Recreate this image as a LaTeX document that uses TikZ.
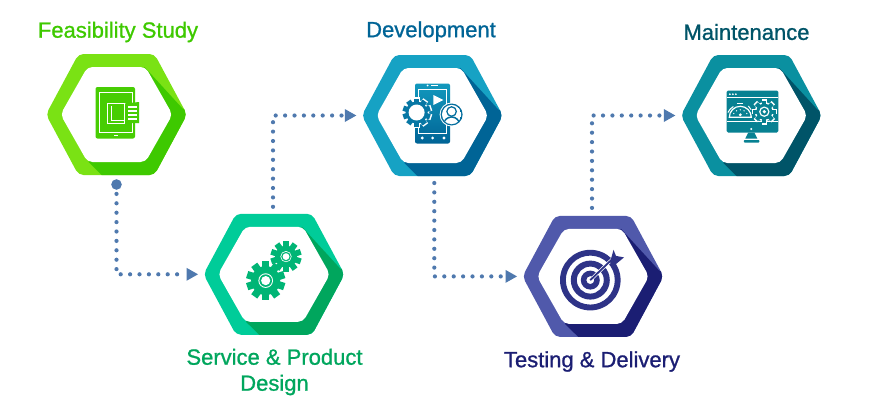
\documentclass[tikz,border=0pt]{standalone}
\usepackage{fontspec}
\setmainfont{Liberation Sans}[FakeBold=1.0]
\usetikzlibrary{calc}
\definecolor{gA}{HTML}{7AE214}\definecolor{gB}{HTML}{3EC900}
\definecolor{tA}{HTML}{00CC99}\definecolor{tB}{HTML}{00A65D}
\definecolor{bA}{HTML}{16A2C4}\definecolor{bB}{HTML}{006496}
\definecolor{iA}{HTML}{5059AB}\definecolor{iB}{HTML}{1B1E73}
\definecolor{mA}{HTML}{0A90A0}\definecolor{mB}{HTML}{005468}
\definecolor{lnk}{HTML}{4F79AE}
\tikzset{
  hexbox/.style={minimum width=138pt,minimum height=121pt,inner sep=0pt,outer sep=0pt},
  title/.style={font=\fontsize{22}{26}\selectfont,align=center,inner sep=0pt},
  flow/.style={lnk,line width=4.2pt,line cap=round,dash pattern=on 0pt off 9.4pt},
  tip/.style={fill=lnk,draw=none},
}
\newcommand{\hexshape}[4]{% x,y,light,dark
  \begin{scope}[shift={(#1,#2)}]
    \fill[#3,rounded corners=5pt] (-70.5,0)--(-38,-60.5)--(38,-60.5)--(70.5,0)--(38,60.5)--(-38,60.5)--cycle;
    \begin{scope}
      \clip[rounded corners=5pt] (-70.5,0)--(-38,-60.5)--(38,-60.5)--(70.5,0)--(38,60.5)--(-38,60.5)--cycle;
      \fill[#4] (28,-47.5)--(66,-6)--(80,0)--(80,70)--(-5.5,70)--(-14.8,60.5)--(-28,47.5)--cycle;
    \end{scope}
    \fill[white,rounded corners=5pt] (-56,0)--(-29,-47.5)--(29,-47.5)--(56,0)--(29,47.5)--(-29,47.5)--cycle;
  \end{scope}
}
\newcommand{\cog}[6]{% x,y,R,r,n,color
  \fill[#6] (#1,#2) circle (#4);
  \foreach \a in {1,...,#5}{
    \fill[#6,rotate around={\a*360/#5:(#1,#2)}] ($(#1,#2)+(-#3*0.19,0)$) rectangle ($(#1,#2)+(#3*0.19,-#3)$);
  }
}
\begin{document}
\begin{tikzpicture}[x=1pt,y=-1pt]
\useasboundingbox (0,0) rectangle (869,415);
\hexshape{116.5}{114.5}{gA}{gB}
\hexshape{274}{274.3}{tA}{tB}
\hexshape{432.3}{115.5}{bA}{bB}
\hexshape{593}{276.4}{iA}{iB}
\hexshape{751.3}{115.5}{mA}{mB}
\node[hexbox] (h1) at (116.5,114.5) {};
\node[hexbox] (h2) at (274,274.3) {};
\node[hexbox] (h3) at (432.3,115.5) {};
\node[hexbox] (h4) at (593,276.4) {};
\node[hexbox] (h5) at (751.3,115.5) {};
% connectors
\coordinate (e2) at ([xshift=-13pt]h2.west);
\coordinate (e3) at ([xshift=-13pt]h3.west);
\coordinate (e4) at ([xshift=-13pt]h4.west);
\coordinate (e5) at ([xshift=-13pt]h5.west);
\coordinate (s1) at ([yshift=-9.5pt]h1.south);
\coordinate (s2) at ([xshift=-1pt,yshift=7pt]h2.north);
\coordinate (s3) at ([xshift=2pt,yshift=-7pt]h3.south);
\coordinate (s4) at ([xshift=-1pt,yshift=8pt]h4.north);
\draw[flow] (s1) |- ([xshift=-8pt]e2);
\fill[lnk] (s1) circle (5.3pt);
\draw[flow] (s2) |- ([xshift=-8pt]e3);
\draw[flow] (s3) |- ([xshift=-8pt]e4);
\draw[flow] (s4) |- ([xshift=-8pt]e5);
\foreach \e in {e2,e3,e4,e5}{
  \fill[tip] ($(\e)+(-5.5,-6.5)$) -- ($(\e)+(6,0)$) -- ($(\e)+(-5.5,6.5)$) -- cycle;
}
% icon 1: tablet
\begin{scope}[shift={(116.5,114.5)}]
  \def\tc{gB!85!gA}
  \fill[\tc,rounded corners=2pt] (-21,-27.5) rectangle (18.5,24);
  \draw[white,line width=1pt] (-17.5,-22.5) rectangle (16,17.5);
  \fill[white] (-3,20.4) rectangle (1,21.9);
  \fill[\tc] (-10.5,-13) rectangle (10,11);
  \draw[white,line width=1.1pt] (-9,-11) rectangle (8,9);
  \draw[white,line width=1pt] (-5.5,-9) -- (-5.5,6) -- (8,6);
  \fill[white] (7,-12) rectangle (9,8);
  \fill[\tc] (8.5,-11) -- (22.5,-12.5) -- (22.5,8.5) -- (8.5,8.5) -- cycle;
  \foreach \yy in {-8.5,-4.5,-0.5,3.5}{\fill[white] (11.5,\yy) rectangle (20,\yy+1.5);}
\end{scope}
% icon 2: gears
\begin{scope}[shift={(274,274.3)}]
  \cog{-8.3}{6.3}{19.5}{14.5}{10}{tB!60!tA}
  \fill[white] (-8.3,6.3) circle (7.3);
  \fill[tB!60!tA] (-8.3,6.3) circle (6.3);
  \fill[white] (-8.3,6.3) circle (4.6);
  \cog{12}{-17.7}{15.5}{11}{10}{tB!60!tA}
  \fill[white] (12,-17.7) circle (5.6);
  \fill[tB!60!tA] (12,-17.7) circle (4.8);
  \fill[white] (12,-17.7) circle (3.4);
\end{scope}
% icon 3: phone
\begin{scope}[shift={(432.3,115.5)}]
  \shade[top color=bA!85!bB,bottom color=bB,rounded corners=2pt] (-17.3,-32) rectangle (17.7,28);
  \draw[white,line width=0.9pt] (-14,-26) rectangle (14.5,18);
  \fill[white] (-4.7,-30) circle (0.9);
  \fill[white] (-1,-30.7) rectangle (6,-29.3);
  \fill[white] (1,-20.5) -- (11,-15.5) -- (1,-10.5) -- cycle;
  \foreach \xx in {-10,0.3,11.7}{\fill[white] (\xx,22.5) circle (1.6);}
  \cog{-15.7}{-3}{15.5}{12.5}{10}{white}
  \cog{-15.7}{-3}{14}{11}{10}{bB!70!bA}
  \fill[white] (-15.7,-3) circle (8);
  \fill[white] (19.3,-1) circle (12);
  \fill[bB!85!bA] (19.3,-1) circle (11);
  \begin{scope}
    \clip (19.3,-1) circle (9.6);
    \fill[white] (19.3,-1) circle (9.6);
    \fill[bB!85!bA] (19.3,-4) circle (5.4);
    \fill[white] (19.3,-4) circle (3.9);
    \fill[bB!85!bA] (19.3,9.5) circle (8.8);
    \fill[white] (19.3,9.8) circle (7.4);
  \end{scope}
\end{scope}
% icon 4: target
\begin{scope}[shift={(593,276.4)},even odd rule]
  \fill[iB!65!iA] (-2.7,3.7) circle (30.3) (-2.7,3.7) circle (24.5)
       (-2.7,3.7) circle (19.5) (-2.7,3.7) circle (13.5)
       (-2.7,3.7) circle (9.5) (-2.7,3.7) circle (4);
  \draw[white,line width=3.2pt] (-2,3) -- (20,-18);
  \draw[iB!65!iA,line width=1.8pt] (-2.7,3.7) -- (20,-18);
  \fill[iB!65!iA] (17,-14) -- (20.5,-26.5) -- (23,-20.5) -- (31,-19) -- (22,-11.5) -- cycle;
\end{scope}
% icon 5: monitor
\begin{scope}[shift={(751.3,115.5)}]
  \def\mc{mA!75!mB}
  \fill[\mc,rounded corners=1.5pt] (-24.7,-25) rectangle (27,17);
  \foreach \xx in {-21.5,-18.5,-15.5}{\fill[white] (\xx,-21.3) circle (1);}
  \fill[white] (-24.7,-18.2) rectangle (27,-17.2);
  \fill[white] (-24.7,5) rectangle (27,6);
  % gauge
  \draw[white,line width=1.2pt] (-22,1.8) arc (180:360:11) -- cycle;
  \draw[white,line width=1pt] (-23.4,-3) arc (205:240:13.5);
  \draw[white,line width=1pt] (-14.5,-12.5) -- (-8,-12.5);
  \draw[white,line width=1pt] (-3,-9.5) arc (310:335:11);
  \foreach \a in {150,120,90,60,30}{\fill[white] ($(-11,1.8)+({7.5*cos(\a)},{-7.5*sin(\a)})$) circle (0.7);}
  \fill[white] (-11,-0.7) circle (1.6);
  \cog{13}{-3.8}{12.8}{9.6}{8}{white}
  \cog{13}{-3.8}{11.2}{8}{8}{\mc}
  \fill[white] (13,-3.8) circle (5.2);
  \fill[\mc] (13,-3.8) circle (3.8);
  \fill[white] (13,-3.8) circle (1.8);
  \fill[white] (0,13.5) circle (1.1);
  \fill[\mc] (-3,17) -- (3,17) -- (6,23) -- (-6,23) -- cycle;
  \fill[\mc,rounded corners=0.7pt] (-7.5,24.5) rectangle (8,27);
\end{scope}
% titles
\node[title,text=gB] (t1) at (118,32) {Feasibility Study};
\node[title,text=tB] (t2) at (274.5,372) {Service \& Product\\Design};
\node[title,text=bB] (t3) at (431,31.5) {Development};
\node[title,text=iB] (t4) at (592,361.5) {Testing \& Delivery};
\node[title,text=mB] (t5) at (746.5,32) {Maintenance};
\end{tikzpicture}
\end{document}
